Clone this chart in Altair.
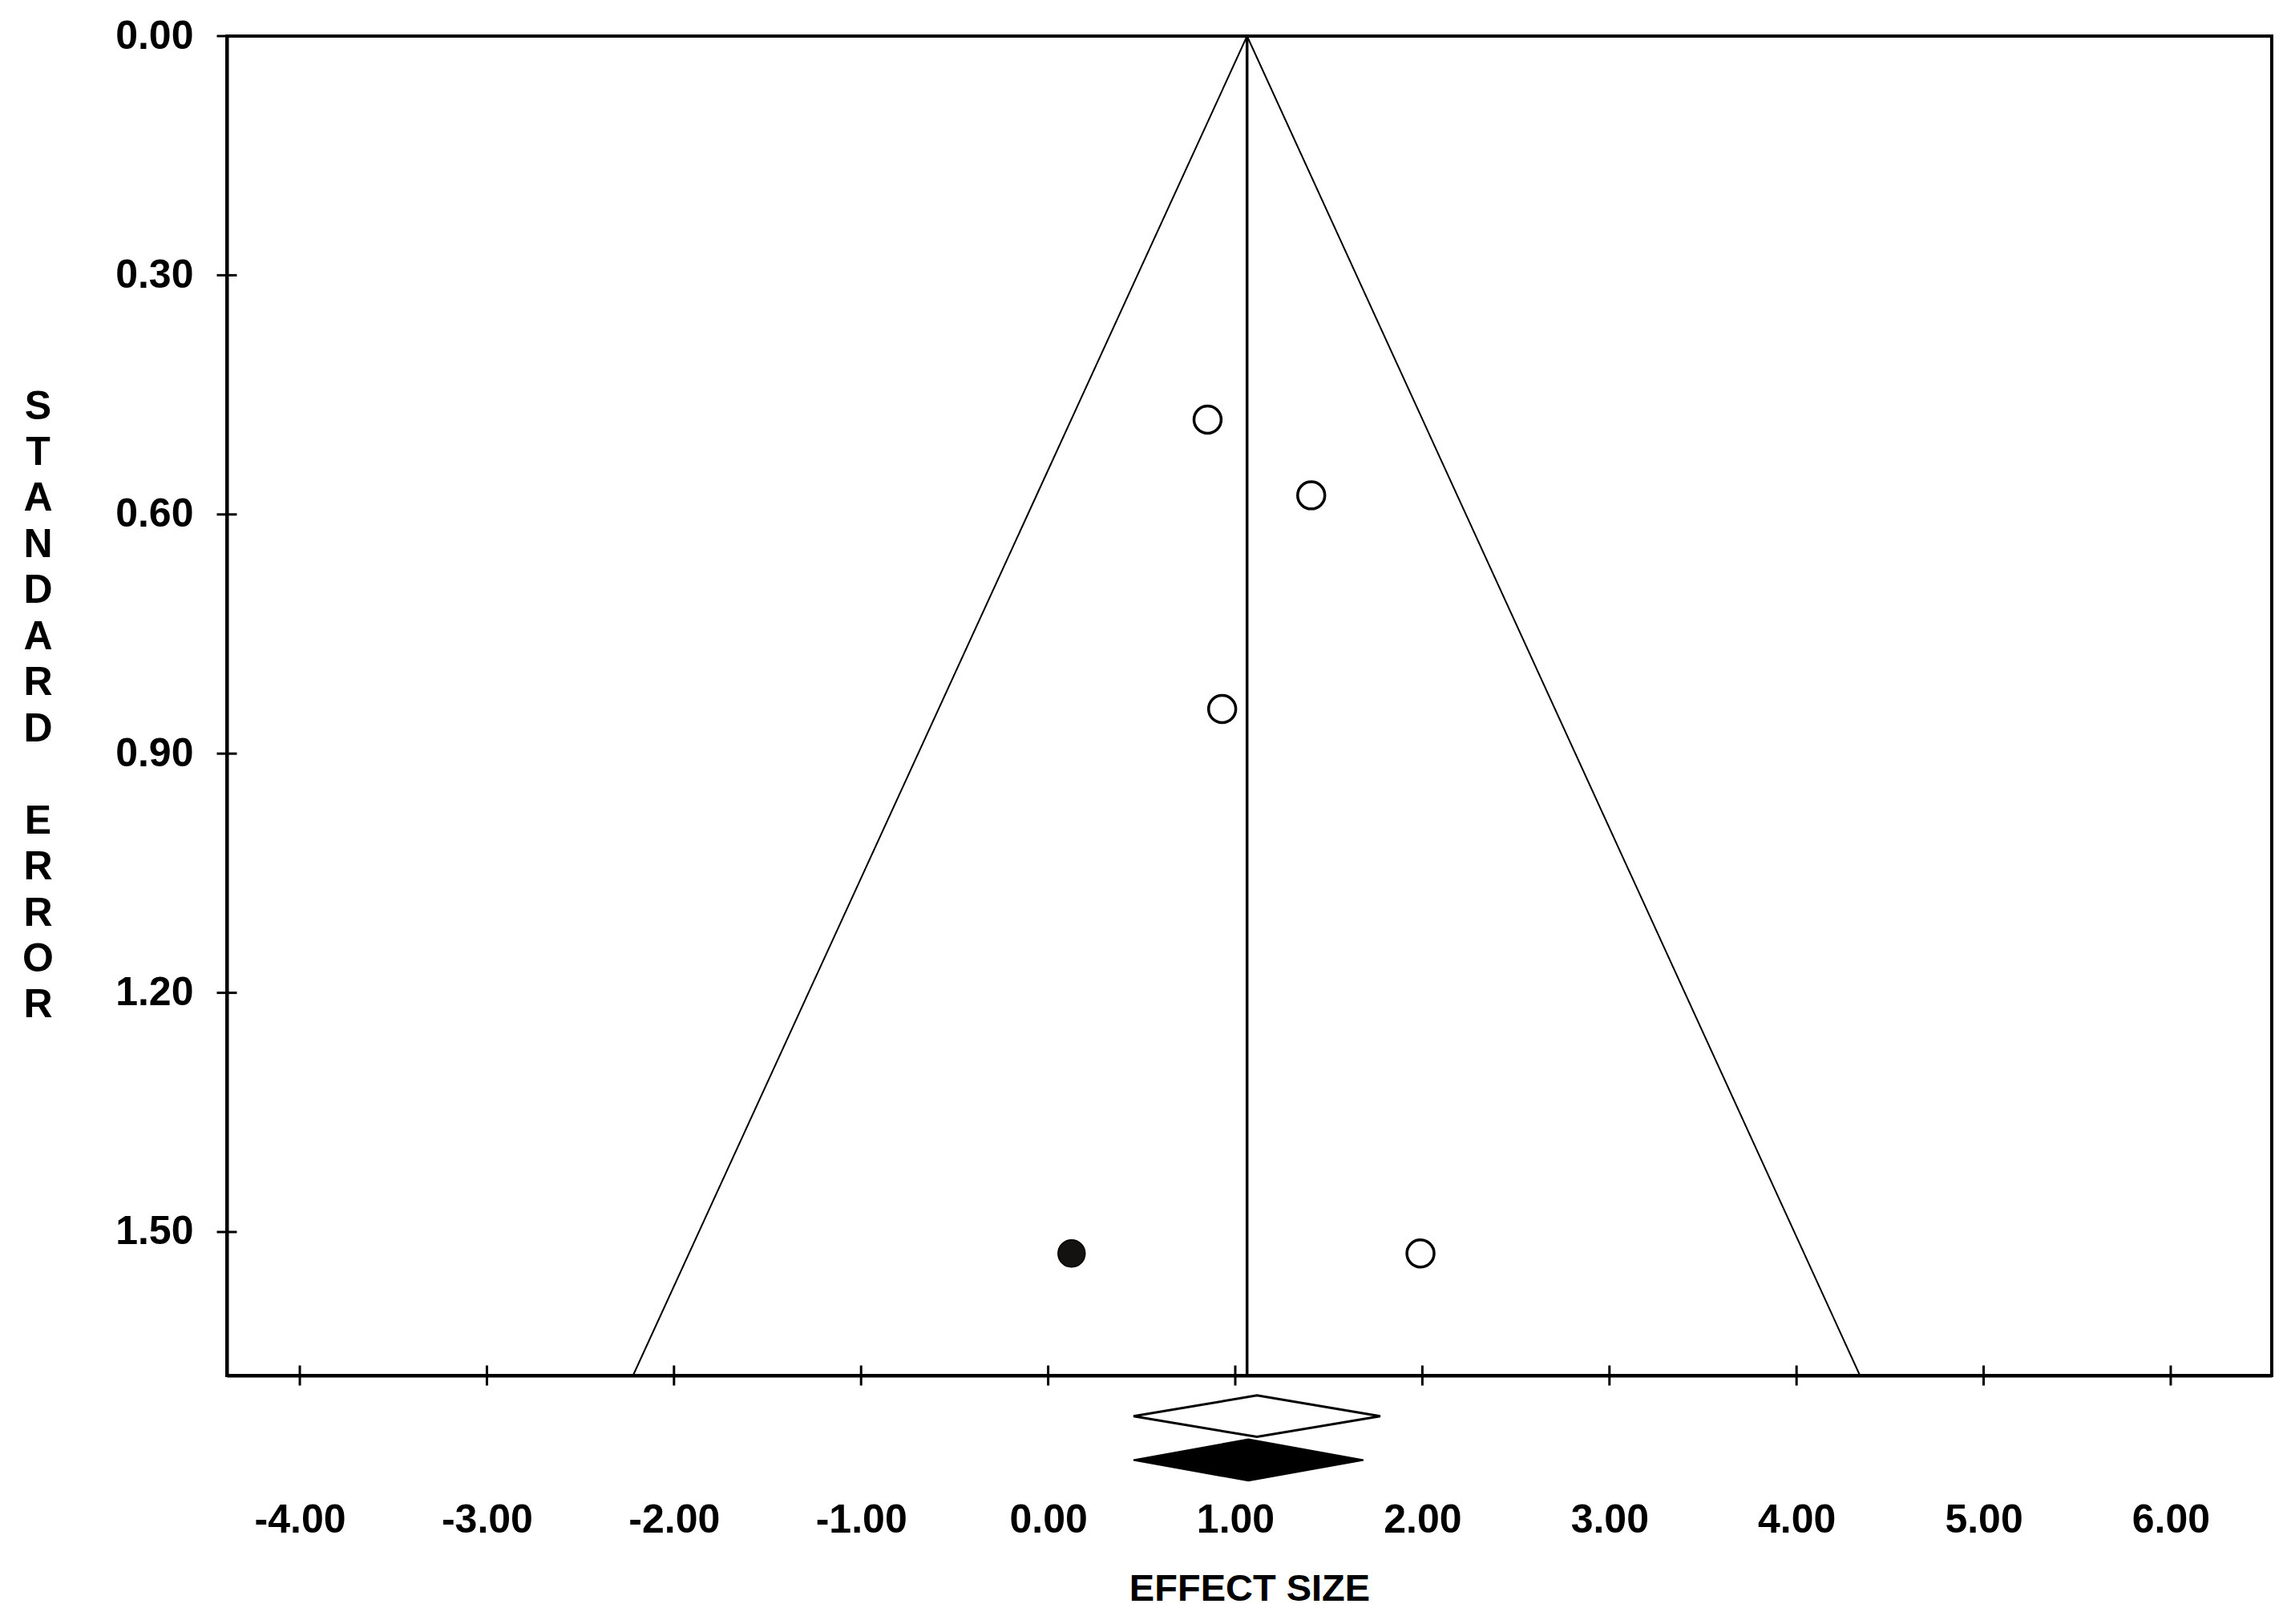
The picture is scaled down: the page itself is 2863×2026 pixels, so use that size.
import altair as alt
import pandas as pd

# ---- data ----
study_es = [0.852, 1.406, 0.930, 1.990]
study_se = [0.481, 0.576, 0.844, 1.527]
imputed_es = [0.125]
imputed_se = [1.527]

combined_es = 1.063
se_max = 1.68
funnel_es = [-2.219, 1.063, 4.339]
funnel_se = [1.68, 0.0, 1.68]

x_ticks = [-4, -3, -2, -1, 0, 1, 2, 3, 4, 5, 6]
y_ticks = [0.0, 0.3, 0.6, 0.9, 1.2, 1.5]
x_domain = [-4.39, 6.54]

# summary diamonds: lower, estimate, upper
diamond_obs = [0.456, 1.116, 1.775]
diamond_imp = [0.456, 1.070, 1.685]
diamond_obs_y = 1.731
diamond_imp_y = 1.786
diamond_half = 0.026

W, H = 2551, 1671
FONT = "Liberation Sans"

xs = alt.Scale(domain=x_domain, nice=False, zero=False)
ys = alt.Scale(domain=[0, se_max], nice=False, zero=False, reverse=True)

studies = pd.DataFrame({"es": study_es, "se": study_se})
imputed = pd.DataFrame({"es": imputed_es, "se": imputed_se})
funnel = pd.DataFrame({"es": funnel_es, "se": funnel_se, "o": list(range(len(funnel_es)))})

def diamond_rows(vals, yc, name):
    lo, est, hi = vals
    return [
        {"es": lo, "y": yc, "y2": yc, "d": name},
        {"es": est, "y": yc - diamond_half, "y2": yc + diamond_half, "d": name},
        {"es": hi, "y": yc, "y2": yc, "d": name},
    ]

dobs = pd.DataFrame(diamond_rows(diamond_obs, diamond_obs_y, "obs"))
dimp = pd.DataFrame(diamond_rows(diamond_imp, diamond_imp_y, "imp"))

x_axis = alt.Axis(
    values=x_ticks,
    labelExpr="(datum.value < 0 ? '-' : '') + format(abs(datum.value), '.2f')",
    ticks=False, domain=True, domainColor="black", domainWidth=4, grid=False,
    labelPadding=155, labelFontSize=50, labelFont=FONT, labelFontWeight="bold",
    labelColor="black",
    title="EFFECT SIZE", titleFontSize=47, titleY=243, titleBaseline="top",
    titleFont=FONT, titleFontWeight="bold", titleColor="black",
)
y_title = ["S", "T", "A", "N", "D", "A", "R", "D", "\u200b", "E", "R", "R", "O", "R"]
y_axis = alt.Axis(
    values=y_ticks, format=".2f",
    ticks=False, domain=True, domainColor="black", domainWidth=4, grid=False,
    labelPadding=42, labelFontSize=50, labelFont=FONT, labelFontWeight="bold",
    labelColor="black",
    title=y_title, titleAngle=0, titleAlign="center", titleBaseline="top",
    titleX=-236, titleY=437, titleFontSize=50, titleLineHeight=57.46,
    titleFont=FONT, titleFontWeight="bold", titleColor="black",
)

funnel_line = alt.Chart(funnel).mark_line(color="black", strokeWidth=2).encode(
    x=alt.X("es:Q", scale=xs, axis=x_axis),
    y=alt.Y("se:Q", scale=ys, axis=y_axis),
    order="o:Q",
)

vline = alt.Chart(pd.DataFrame({"es": [combined_es], "a": [0.0], "b": [se_max]})).mark_rule(
    color="black", strokeWidth=3.5
).encode(x=alt.X("es:Q", scale=xs), y=alt.Y("a:Q", scale=ys), y2="b:Q")

open_pts = alt.Chart(studies).mark_point(
    shape="circle", filled=False, size=1150, strokeWidth=3.5, color="black", opacity=1
).encode(x=alt.X("es:Q", scale=xs), y=alt.Y("se:Q", scale=ys))

filled_pts = alt.Chart(imputed).mark_point(
    shape="circle", filled=True, size=1150, color="#141210", opacity=1,
    stroke="black", strokeWidth=1.5
).encode(x=alt.X("es:Q", scale=xs), y=alt.Y("se:Q", scale=ys))

dia_obs = alt.Chart(dobs).mark_area(
    fill="white", stroke="black", strokeWidth=3, clip=False
).encode(x=alt.X("es:Q", scale=xs), y=alt.Y("y:Q", scale=ys), y2="y2:Q")

dia_imp = alt.Chart(dimp).mark_area(
    fill="black", stroke="black", strokeWidth=2, clip=False
).encode(x=alt.X("es:Q", scale=xs), y=alt.Y("y:Q", scale=ys), y2="y2:Q")

xtick_df = pd.DataFrame({"es": x_ticks})
ytick_df = pd.DataFrame({"se": y_ticks})

xtick_marks = alt.Chart(xtick_df).mark_tick(
    orient="vertical", size=25, thickness=3, color="black", opacity=1
).encode(x=alt.X("es:Q", scale=xs), y=alt.datum(se_max, scale=ys))

ytick_marks = alt.Chart(ytick_df).mark_tick(
    orient="horizontal", size=25, thickness=3, color="black", opacity=1
).encode(y=alt.Y("se:Q", scale=ys), x=alt.datum(x_domain[0], scale=xs))

chart = alt.layer(
    funnel_line, vline, dia_obs, dia_imp, open_pts, filled_pts, xtick_marks, ytick_marks
).properties(
    width=W, height=H,
    autosize=alt.AutoSizeParams(type="none"),
    padding={"left": 275, "top": 37, "right": 15, "bottom": 290},
    background="white",
).configure_view(
    stroke="black", strokeWidth=4
)

chart.save("out.html", embed_options={"renderer": "svg", "actions": False})
